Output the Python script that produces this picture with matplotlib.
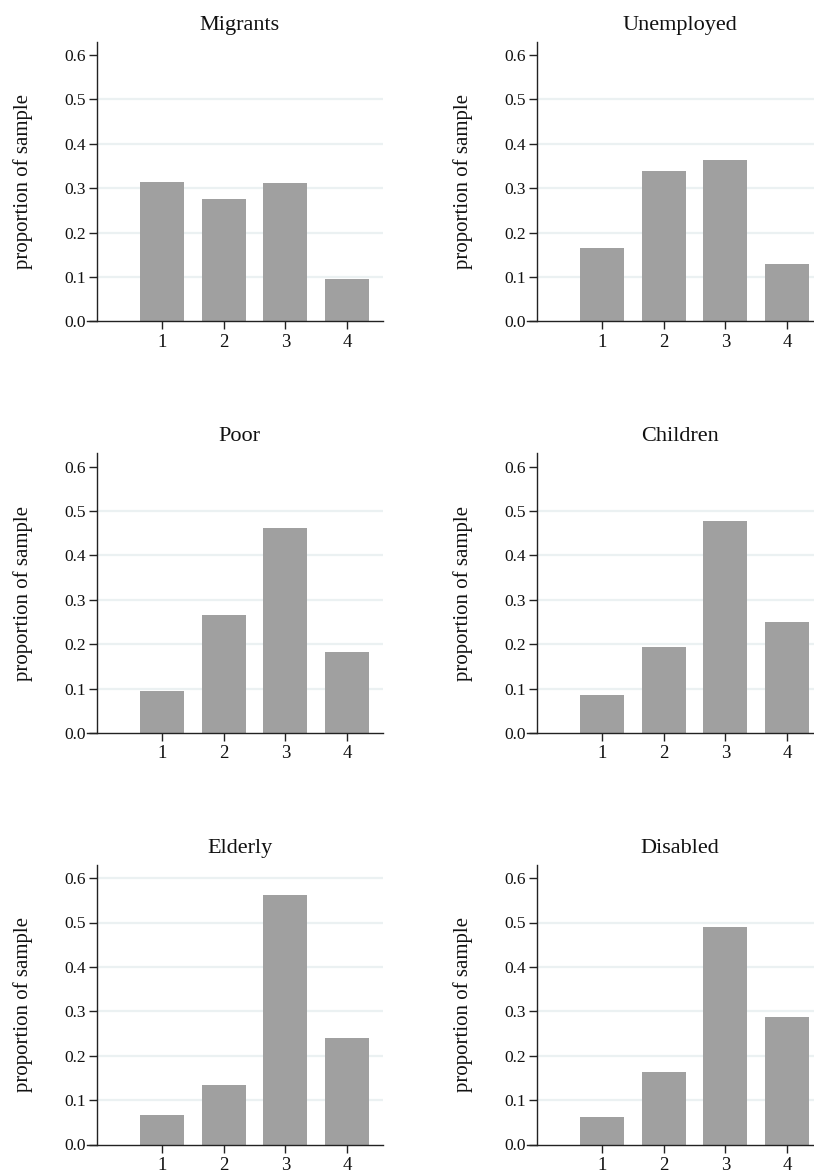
import matplotlib
matplotlib.use("Agg")
import matplotlib.pyplot as plt
import numpy as np

plt.rcParams['font.family'] = ['Liberation Serif', 'DejaVu Serif']

groups = ["Migrants", "Unemployed", "Poor", "Children", "Elderly", "Disabled"]
categories = [1, 2, 3, 4]
migrants = [0.315, 0.275, 0.311, 0.096]
unemployed = [0.165, 0.340, 0.364, 0.129]
poor = [0.094, 0.266, 0.461, 0.182]
children = [0.085, 0.194, 0.478, 0.250]
elderly = [0.067, 0.135, 0.561, 0.239]
disabled = [0.062, 0.164, 0.490, 0.287]
values = [migrants, unemployed, poor, children, elderly, disabled]
yticks = [0.0, 0.1, 0.2, 0.3, 0.4, 0.5, 0.6]
ytick_labels = ["0.0", "0.1", "0.2", "0.3", "0.4", "0.5", "0.6"]

W, H = 814, 1172
fig = plt.figure(figsize=(W / 100, H / 100), dpi=100)

bar_color = "#a0a0a0"
grid_color = "#ebf1f2"
spine_color = "#222222"

ax_left_px = 87
ax_w_px = 296
col_gap = 440
y0_px = 321.5
row_gap = 411.5
ymax = 0.63
px_per_unit = 444.0
ax_h_px = ymax * px_per_unit
spine_frac = (96.5 - 87) / ax_w_px

for i, (name, vals) in enumerate(zip(groups, values)):
    r, c = divmod(i, 2)
    left = (ax_left_px + col_gap * c) / W
    bottom = 1 - (y0_px + row_gap * r) / H
    ax = fig.add_axes([left, bottom, ax_w_px / W, ax_h_px / H])
    ax.set_xlim(-0.216, 4.583)
    ax.set_ylim(0, ymax)

    top_grid = max(0.5, np.ceil(max(vals) * 10 - 1e-9) / 10)
    for t in yticks[1:]:
        if t <= top_grid + 1e-9:
            ax.axhline(t, xmin=spine_frac, xmax=1, color=grid_color, lw=1.6, zorder=0)

    ax.bar(categories, vals, width=0.71, color=bar_color, zorder=2)

    for s in ["top", "right"]:
        ax.spines[s].set_visible(False)
    ax.spines["left"].set_position(("axes", spine_frac))
    for s in ["left", "bottom"]:
        ax.spines[s].set_color(spine_color)
        ax.spines[s].set_linewidth(1.0)

    ax.set_yticks(yticks)
    ax.set_yticklabels(ytick_labels)
    ax.set_xticks(categories)
    ax.set_xticklabels([str(c_) for c_ in categories])
    ax.tick_params(axis="both", direction="out", length=6, width=1.0,
                   color=spine_color, labelcolor="#111111")
    ax.tick_params(axis="y", labelsize=12.5, pad=1.5)
    ax.tick_params(axis="x", labelsize=13.5, pad=3.0)

    ax.text((spine_frac + 1) / 2, 1 + 12 / ax_h_px, name, transform=ax.transAxes,
            ha="center", va="baseline", fontsize=16, color="#111111")
    ax.text((23 - 87) / ax_w_px, 0.5, "proportion of sample", transform=ax.transAxes,
            ha="center", va="center", rotation=90, fontsize=15, color="#111111")

fig.savefig("out.png", dpi=100)
